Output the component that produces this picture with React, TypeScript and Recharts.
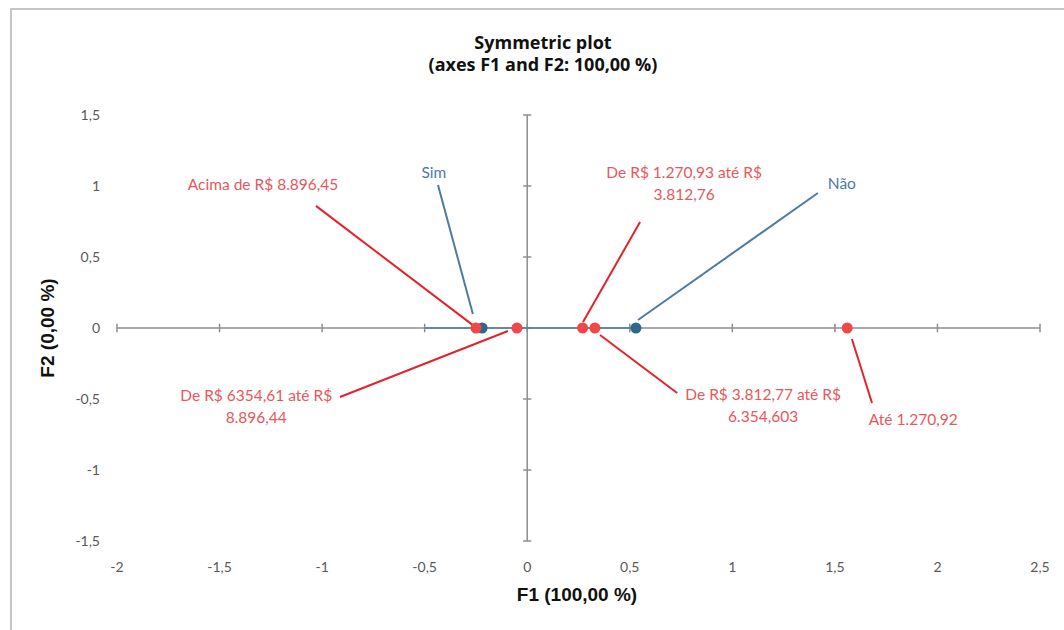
import { ReferenceLine, Scatter, ScatterChart, XAxis, YAxis } from "recharts";

// eixos
const xTicks = [-2, -1.5, -1, -0.5, 0, 0.5, 1, 1.5, 2, 2.5];
const yTicks = [-1.5, -1, -0.5, 0, 0.5, 1, 1.5];

// linhas (renda)
const rowPoints = [
  { name: "Acima de R$ 8.896,45", x: -0.25, y: 0 },
  { name: "De R$ 6354,61 até R$ 8.896,44", x: -0.05, y: 0 },
  { name: "De R$ 1.270,93 até R$ 3.812,76", x: 0.27, y: 0 },
  { name: "De R$ 3.812,77 até R$ 6.354,603", x: 0.33, y: 0 },
  { name: "Até 1.270,92", x: 1.56, y: 0 }
];

// colunas (sim / não)
const colPoints = [
  { name: "Sim", x: -0.22, y: 0 },
  { name: "Não", x: 0.53, y: 0 }
];

// rótulos com linha de chamada (coordenadas do gráfico)
const rowLabels = [
  { lines: ["Acima de R$ 8.896,45"], x: -1.288, y: 1.014, x1: -1.03, y1: 0.86, x2: -0.265, y2: 0.02 },
  { lines: ["De R$ 1.270,93 até R$", "3.812,76"], x: 0.765, y: 1.021, x1: 0.55, y1: 0.746, x2: 0.272, y2: 0.042 },
  { lines: ["De R$ 6354,61 até R$", "8.896,44"], x: -1.321, y: -0.549, x1: -0.913, y1: -0.486, x2: -0.094, y2: -0.021 },
  { lines: ["De R$ 3.812,77 até R$", "6.354,603"], x: 1.15, y: -0.542, x1: 0.731, y1: -0.458, x2: 0.355, y2: -0.049 },
  { lines: ["Até 1.270,92"], x: 1.882, y: -0.641, x1: 1.681, y1: -0.528, x2: 1.583, y2: -0.077 }
];

const colLabels = [
  { lines: ["Sim"], x: -0.455, y: 1.1, x1: -0.435, y1: 1.007, x2: -0.265, y2: 0.099 },
  { lines: ["Não"], x: 1.534, y: 1.021, x1: 1.417, y1: 0.951, x2: 0.54, y2: 0.056 }
];

const red = "#f2474a";
const redLine = "#e3232c";
const redText = "#e8575b";
const blue = "#2d6a8a";
const blueText = "#4d7c9e";
const axisGray = "#8e8e8e";

const fmt = (v: number) => String(v).replace(".", ",");

const dot = (color: string) => (props: any) =>
  <circle cx={props.cx} cy={props.cy} r={5.5} fill={color} />;

const labelText = (color: string) => (props: any) => {
  const lines: string[] = props.payload.lines;
  const start = props.cy - ((lines.length - 1) * 22) / 2;
  return (
    <text
      x={props.cx}
      y={start}
      textAnchor="middle"
      dominantBaseline="central"
      fill={color}
      style={{ fontFamily: "Lato, sans-serif", fontSize: 15.5 }}
    >
      {lines.map((l, i) => (
        <tspan key={i} x={props.cx} y={start + i * 22}>
          {l}
        </tspan>
      ))}
    </text>
  );
};

export default function App() {
  const tickStyle = { fontFamily: "Lato, sans-serif", fontSize: 14, fill: "#595959" };
  return (
    <div style={{ position: "absolute", left: 0, top: 0, width: 1064, height: 630, overflow: "hidden", background: "#fff" }}>
      <div
        style={{
          position: "absolute",
          left: 10,
          top: 8,
          width: 1100,
          height: 700,
          borderLeft: "2px solid #c6c6c6",
          borderTop: "2px solid #c6c6c6"
        }}
      />
      <div
        style={{
          position: "absolute",
          left: 0,
          top: 31,
          width: 1086,
          textAlign: "center",
          fontFamily: "'Open Sans', sans-serif",
          fontWeight: 700,
          fontSize: 18,
          lineHeight: "22px",
          color: "#111"
        }}
      >
        Symmetric plot
        <br />
        (axes F1 and F2: 100,00 %)
      </div>
      <div
        style={{
          position: "absolute",
          left: 0,
          top: 584,
          width: 1154,
          textAlign: "center",
          fontFamily: "'Liberation Sans', Arial, sans-serif",
          fontWeight: 700,
          fontSize: 19,
          lineHeight: "22px",
          color: "#111"
        }}
      >
        F1 (100,00 %)
      </div>
      <div
        style={{
          position: "absolute",
          left: -52,
          top: 317,
          width: 200,
          height: 22,
          textAlign: "center",
          fontFamily: "'Liberation Sans', Arial, sans-serif",
          fontWeight: 700,
          fontSize: 19,
          lineHeight: "22px",
          color: "#111",
          transform: "rotate(-90deg)"
        }}
      >
        F2 (0,00 %)
      </div>
      <div style={{ position: "absolute", left: 0, top: 0 }}>
        <ScatterChart width={1064} height={630} margin={{ top: 115, right: 24, bottom: 49, left: 57 }}>
          <XAxis
            type="number"
            dataKey="x"
            domain={[-2, 2.5]}
            ticks={xTicks}
            tickFormatter={fmt}
            axisLine={false}
            tickLine={false}
            tickMargin={15}
            height={40}
            tick={tickStyle}
            allowDataOverflow
          />
          <YAxis
            type="number"
            dataKey="y"
            domain={[-1.5, 1.5]}
            ticks={yTicks}
            tickFormatter={fmt}
            axisLine={false}
            tickLine={false}
            tickMargin={11}
            width={60}
            tick={tickStyle}
            allowDataOverflow
          />
          <ReferenceLine y={0} stroke={axisGray} strokeWidth={1.5} />
          <ReferenceLine x={0} stroke={axisGray} strokeWidth={1.5} />
          {xTicks.map((t) => (
            <ReferenceLine
              key={"xt" + t}
              segment={[{ x: t, y: -0.03 }, { x: t, y: 0.03 }]}
              stroke={axisGray}
              strokeWidth={1.5}
            />
          ))}
          {yTicks.map((t) => (
            <ReferenceLine
              key={"yt" + t}
              segment={[{ x: -0.02, y: t }, { x: 0.02, y: t }]}
              stroke={axisGray}
              strokeWidth={1.5}
            />
          ))}
          <ReferenceLine
            segment={[{ x: -0.5, y: 0 }, { x: colPoints[1].x, y: 0 }]}
            stroke="#4f7f99"
            strokeWidth={1.5}
          />
          {rowLabels.map((a, i) => (
            <ReferenceLine
              key={"rl" + i}
              segment={[{ x: a.x1, y: a.y1 }, { x: a.x2, y: a.y2 }]}
              stroke={redLine}
              strokeWidth={2}
            />
          ))}
          {colLabels.map((a, i) => (
            <ReferenceLine
              key={"cl" + i}
              segment={[{ x: a.x1, y: a.y1 }, { x: a.x2, y: a.y2 }]}
              stroke={blueText}
              strokeWidth={2}
            />
          ))}
          <Scatter data={rowLabels} shape={labelText(redText)} isAnimationActive={false} />
          <Scatter data={colLabels} shape={labelText(blueText)} isAnimationActive={false} />
          <Scatter data={colPoints} shape={dot(blue)} isAnimationActive={false} />
          <Scatter data={rowPoints} shape={dot(red)} isAnimationActive={false} />
        </ScatterChart>
      </div>
    </div>
  );
}
